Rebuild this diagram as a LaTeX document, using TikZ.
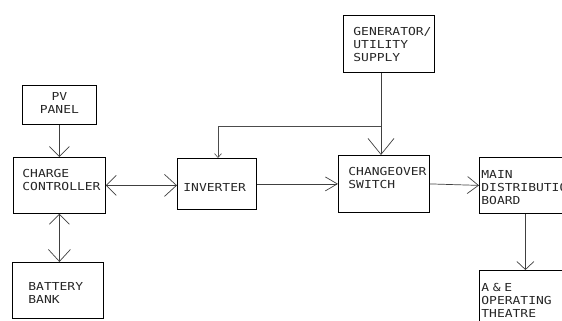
\documentclass[tikz,border=0pt]{standalone}
\usepackage{fontspec}
\usepackage{tikz}
\usetikzlibrary{arrows.meta,positioning,calc}
\newfontfamily\cadfont[FakeStretch=1.18]{DejaVu Sans Mono}
\newcommand{\cad}{\cadfont\fontsize{11}{13}\selectfont}
\tikzset{
  pwbox/.style={draw,line width=0.8pt,anchor=north west,align=left,
    font=\cad,text=black!85,inner ysep=0pt},
  pwflow/.style={-{Straight Barb[length=10pt,width=20pt]},line width=0.7pt,draw=black!75},
  pwboth/.style={{Straight Barb[length=10pt,width=20pt]}-{Straight Barb[length=12pt,width=22pt]},
    line width=0.7pt,draw=black!75},
  pwsmall/.style={-{Straight Barb[length=4pt,width=7pt]},line width=0.6pt,draw=black!70},
}
\begin{document}
\begin{tikzpicture}[x=1pt,y=-1pt]
\useasboundingbox (0,0) rectangle (562,321);
\clip (0,0) rectangle (562,321);
% solar side
\node[pwbox,align=center,inner xsep=4pt,text width=66pt,text height=15pt,text depth=24pt]
  (pv) at (22,85) {PV\\PANEL};
\node[pwbox,inner xsep=9pt,text width=74pt,text height=20pt,text depth=36pt]
  (cc) at (13,157) {CHARGE\\CONTROLLER};
\node[pwbox,inner xsep=16pt,text width=59pt,text height=28pt,text depth=28pt]
  (bat) at (12,262) {BATTERY\\BANK};
\node[pwbox,inner xsep=6pt,text width=67pt,text height=33pt,text depth=18pt]
  (inv) at (177,158) {INVERTER};
% mains side
\node[pwbox,inner xsep=10pt,text width=71pt,text height=20pt,text depth=37pt]
  (gen) at (343,15) {GENERATOR/\\UTILITY\\SUPPLY};
\node[pwbox,inner xsep=10pt,text width=71pt,text height=20pt,text depth=37pt]
  (cos) at (338,155) {CHANGEOVER\\SWITCH};
\node[pwbox,inner xsep=2pt,text width=88pt,text height=21pt,text depth=35pt]
  (mdb) at (479,157) {MAIN\\DISTRIBUTION\\BOARD};
\node[pwbox,inner xsep=2pt,text width=88pt,text height=21pt,text depth=39pt]
  (ate) at (479,270) {A \& E\\OPERATING\\THEATRE};
\coordinate (j) at (381,126);
\coordinate (k) at (218,126);
\draw[pwflow] (pv.south) -- (cc.north);
\draw[pwboth] (cc.south) -- (cc.south |- bat.north);
\draw[pwboth] (cc.east) -- (cc.east -| inv.west);
\draw[pwflow,-{Straight Barb[length=12pt,width=14pt]}] (inv.east) -- (cos.west);
\draw[pwflow,-{Straight Barb[length=16pt,width=26pt]}] (j |- gen.south) -- (j |- cos.north);
\draw[pwsmall] (j) -- (k) -- (k |- inv.north);
\draw[pwflow,-{Straight Barb[length=11pt,width=17pt]}] (cos.east) -- (mdb.west);
\draw[pwflow,-{Straight Barb[length=8pt,width=17pt]}] (mdb.south) -- (ate.north);
\end{tikzpicture}
\end{document}
